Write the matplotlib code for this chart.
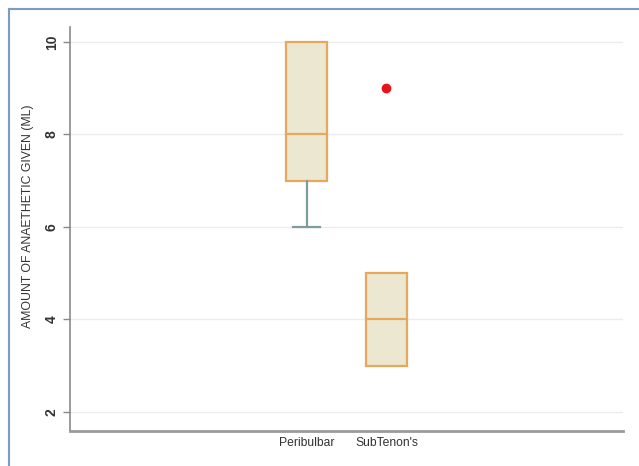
import matplotlib.pyplot as plt
from matplotlib.lines import Line2D

plt.rcParams['font.family'] = ['Liberation Sans', 'DejaVu Sans']

# 两组的箱线图统计量
groups = ['Peribulbar', "SubTenon's"]
whislo = [6, 3]
q1 = [7, 3]
med = [8, 4]
q3 = [10, 5]
whishi = [10, 5]
outliers = [[], [9]]
yticks = [2, 4, 6, 8, 10]

stats = []
for i, name in enumerate(groups):
    stats.append({'label': name, 'whislo': whislo[i], 'q1': q1[i], 'med': med[i],
                  'q3': q3[i], 'whishi': whishi[i], 'fliers': outliers[i]})

fig = plt.figure(figsize=(6.39, 4.66), dpi=100)
ax = fig.add_axes([70 / 639, 1 - 431 / 466, 553 / 639, 404 / 466])

box_edge = '#e8a85c'
whisk = '#7d9c9c'
parts = ax.bxp(stats, positions=[1, 2], widths=0.52, patch_artist=True, showfliers=True,
               boxprops=dict(facecolor='#ebe7d0', edgecolor=box_edge, linewidth=1.6),
               medianprops=dict(color=box_edge, linewidth=1.6),
               whiskerprops=dict(color=whisk, linewidth=1.6),
               capprops=dict(color=whisk, linewidth=1.6),
               capwidths=0.33,
               flierprops=dict(marker='o', markerfacecolor='#e8141c', markeredgecolor='#e8141c',
                               markersize=6))

# 须长为0时不画端线
for i in range(len(groups)):
    if whislo[i] == q1[i]:
        parts['caps'][2 * i].set_visible(False)
    if whishi[i] == q3[i]:
        parts['caps'][2 * i + 1].set_visible(False)

ax.set_xlim(-1.96, 4.96)
ax.set_ylim(1.59, 10.32)
ax.set_yticks(yticks)
ax.set_yticklabels([str(v) for v in yticks], rotation=90, va='center',
                   fontsize=10, fontweight='bold', color='#333333')
ax.tick_params(axis='y', length=5, color='#888888', width=1, pad=3)
ax.tick_params(axis='x', length=0, labelsize=8.7, labelcolor='#333333', pad=4)
ax.grid(axis='y', color='#ececec', linewidth=1)
ax.set_axisbelow(True)
for s in ['top', 'right']:
    ax.spines[s].set_visible(False)
ax.spines['left'].set_color('#8a8a8a')
ax.spines['bottom'].set_color('#9a9a9a')
ax.spines['bottom'].set_linewidth(2)
ax.spines['left'].set_linewidth(1.2)

fig.text(28 / 639, 1 - 216 / 466, 'AMOUNT OF ANAETHETIC GIVEN (ML)', rotation=90,
         ha='center', va='center', fontsize=8.8, color='#333333')

# 外框（只有上边和左边可见）
fx = 8.5 / 639
fy = 1 - 8.5 / 466
fig.add_artist(Line2D([fx, 1], [fy, fy], transform=fig.transFigure,
                      color='#7a9cc6', linewidth=1.5))
fig.add_artist(Line2D([fx, fx], [0, fy], transform=fig.transFigure,
                      color='#7a9cc6', linewidth=1.5))

fig.savefig('out.png', dpi=100)
